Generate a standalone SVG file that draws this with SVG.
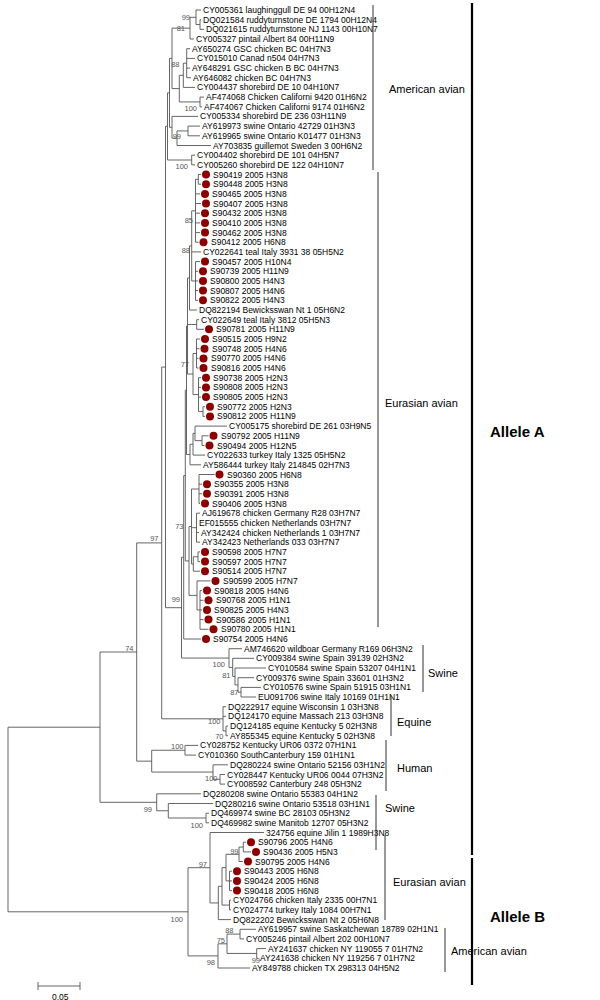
<svg xmlns="http://www.w3.org/2000/svg" width="600" height="1000" viewBox="0 0 600 1000">
<style>
.t{font-family:"Liberation Sans",Arial,sans-serif;font-size:8.5px;fill:#000}
.bs{font-family:"Liberation Sans",Arial,sans-serif;font-size:7.5px;fill:#555;text-anchor:end}
.g{font-family:"Liberation Sans",Arial,sans-serif;font-size:11px;fill:#000}
.al{font-family:"Liberation Sans",Arial,sans-serif;font-size:15px;font-weight:bold;fill:#000}
.d{fill:#8b0000}
.e{fill:none;stroke:#555;stroke-width:0.9}
.br{fill:none;stroke:#333;stroke-width:1}
.bb{fill:none;stroke:#000;stroke-width:2.2}
</style>
<rect width="600" height="1000" fill="#fff"/>
<g id="connectors">
<path class="e" d="M200 19.7V29.4M200 19.7H201M200 29.4H204M196 10V24.55M196 10H201M196 24.55H200M190 17.3V39M190 17.3H196M190 39H194M186.7 48.7V77.7M186.7 48.7H190M186.7 58.4H195M186.7 68.1H190M186.7 77.7H191M183.3 63.2V87.4M183.3 63.2H186.7M183.3 87.4H195M200 97.1V106.8M200 97.1H204M200 106.8H202M179.3 75.3V101.95M179.3 75.3H183.3M179.3 101.95H200M172 28.15V88.6M172 28.15H190M172 88.6H179.3M188 126.1V135.8M188 126.1H200M188 135.8H200M177 130.95V145.5M177 130.95H188M177 145.5H211M172 116.4V138.2M172 116.4H198M172 138.2H177M191.7 155.2V164.8M191.7 155.2H195M191.7 164.8H195M169.5 58.4V127.3M169.5 58.4H172M169.5 127.3H172M167.5 92.85V160M167.5 92.85H169.5M167.5 160H191.7"/>
<path class="e" d="M198.3 174.5V184.2M198.3 174.5H201M198.3 184.2H201M195.5 179.35V242.2M195.5 179.35H198.3M195.5 193.9H200M195.5 203.5H201M195.5 213.2H200M195.5 222.9H200M195.5 232.6H200M195.5 242.2H198.5M195.5 261.6V300.3M195.5 261.6H200M195.5 271.3H198M195.5 281H198M195.5 290.6H198M195.5 300.3H198M191.7 210.8V280.95M191.7 210.8H195.5M191.7 251.9H201M191.7 280.95H195.5M189.5 245.9V310M189.5 245.9H191.7M189.5 310H197M196.7 319.7V329.3M196.7 319.7H199M196.7 329.3H204M196.5 339V368M196.5 339H200M196.5 348.7H199.5M196.5 358.4H198.5M196.5 368H198.5M203 406.7V416.4M203 406.7H205M203 416.4H205M198.5 377.7V411.55M198.5 377.7H201M198.5 387.4H201M198.5 397.1H201M198.5 411.55H203M193 353.5V394.6M193 353.5H196.5M193 394.6H198.5M187.5 277.95V374.05M187.5 277.95H189.5M187.5 324.5H196.7M187.5 374.05H193"/>
<path class="e" d="M202 435.8V445.5M202 435.8H208.5M202 445.5H204.5M195 426.1V440.65M195 426.1H227M195 440.65H202M193 433.4V455.1M193 433.4H195M193 455.1H205M190 444.25V464.8M190 444.25H193M190 464.8H201M186.5 326V454.5M186.5 326H187.5M186.5 454.5H190M199 474.5V503.5M199 474.5H214.5M199 484.2H202M199 493.8H202M199 503.5H200M196.5 513.2V542.2M196.5 513.2H200M196.5 522.9H197M196.5 532.5H199M196.5 542.2H200M198 551.9V561.6M198 551.9H200M198 561.6H200M193.3 556.75V571.2M193.3 556.75H198M193.3 571.2H200M191.5 489V564M191.5 489H199M191.5 527.7H196.5M191.5 564H193.3M200 590.6V629.3M200 590.6H202M200 600.3H203.5M200 610H202M200 619.6H203.5M200 629.3H208.5M197 580.9V609.95M197 580.9H210.5M197 609.95H200M189 526.5V595.4M189 526.5H191.5M189 595.4H197M185.3 390.25V560.95M185.3 390.25H186.5M185.3 560.95H189M183.7 475.6V639M183.7 475.6H185.3M183.7 639H201"/>
<path class="e" d="M241 687.4V697M241 687.4H261M241 697H256M238 677.7V692.2M238 677.7H254M238 692.2H241M235 668V684.95M235 668H266M235 684.95H238M232.7 658.3V676.5M232.7 658.3H254M232.7 676.5H235M229 648.7V667.4M229 648.7H242M229 667.4H232.7M181.5 557.3V658.05M181.5 557.3H183.7M181.5 658.05H229M165.5 126.4V607.7M165.5 126.4H167.5M165.5 607.7H181.5M226 726.1V735.7M226 726.1H228M226 735.7H228M223 706.7V730.9M223 706.7H226M223 716.4H226M223 730.9H226M161.7 367.05V718.8M161.7 367.05H165.5M161.7 718.8H223M185 745.4V755.1M185 745.4H198M185 755.1H196M220 774.5V784.1M220 774.5H225M220 784.1H225M213 764.8V779.3M213 764.8H228M213 779.3H220M151.7 750.25V772.05M151.7 750.25H185M151.7 772.05H213M136.7 542.9V761.15M136.7 542.9H161.7M136.7 761.15H151.7M206 813.2V822.8M206 813.2H209M206 822.8H209M168.3 803.5V818M168.3 803.5H213M168.3 818H206M156.7 793.8V810.75M156.7 793.8H201M156.7 810.75H168.3M100 652V802.3M100 652H136.7M100 802.3H156.7"/>
<path class="e" d="M243.3 842.2V851.9M243.3 842.2H246M243.3 851.9H251M239 847.05V861.5M239 847.05H243.3M239 861.5H243M229.5 871.2V890.6M229.5 871.2H232M229.5 880.9H232M229.5 890.6H232M226 854.3V880.9M226 854.3H239M226 880.9H229.5M229.5 900.2V909.9M229.5 900.2H231M229.5 909.9H231M222 867.6V905.05M222 867.6H226M222 905.05H229.5M218.3 886.3V919.6M218.3 886.3H222M218.3 919.6H231M210 832.5V902.95M210 832.5H264M210 902.95H218.3M240 929.3V938.9M240 929.3H256M240 938.9H244M256.7 948.6V958.3M256.7 948.6H266M256.7 958.3H258M227 934.1V953.45M227 934.1H240M227 953.45H256.7M218 943.8V968M218 943.8H227M218 968H250M188 867.7V955.9M188 867.7H210M188 955.9H218M8 727.2V911.8M8 727.2H100M8 911.8H188"/>
</g>
<g id="bootstrap">
<text class="bs" x="190" y="20">99</text>
<text class="bs" x="185" y="30.5">81</text>
<text class="bs" x="179.5" y="67">88</text>
<text class="bs" x="197" y="111">100</text>
<text class="bs" x="181" y="138.5">99</text>
<text class="bs" x="188" y="168.5">100</text>
<text class="bs" x="193" y="223">85</text>
<text class="bs" x="190" y="252.5">88</text>
<text class="bs" x="189" y="367">77</text>
<text class="bs" x="183.5" y="528.5">73</text>
<text class="bs" x="158.5" y="540.5">97</text>
<text class="bs" x="180" y="602">99</text>
<text class="bs" x="133.5" y="650.5">74</text>
<text class="bs" x="225" y="667">100</text>
<text class="bs" x="230.5" y="677.5">81</text>
<text class="bs" x="238.5" y="695">87</text>
<text class="bs" x="220.5" y="723.5">100</text>
<text class="bs" x="223.5" y="738.5">70</text>
<text class="bs" x="183.5" y="748.5">100</text>
<text class="bs" x="217.5" y="780.5">100</text>
<text class="bs" x="152" y="812">99</text>
<text class="bs" x="203" y="827.5">100</text>
<text class="bs" x="238.5" y="853.5">99</text>
<text class="bs" x="207" y="867">97</text>
<text class="bs" x="183" y="921.5">100</text>
<text class="bs" x="233.5" y="933">88</text>
<text class="bs" x="225" y="943">75</text>
<text class="bs" x="260" y="963">99</text>
<text class="bs" x="215" y="965">98</text>
</g>
<g id="n1"><text class="t" x="203" y="13">CY005361 laughinggull DE 94 00H12N4</text></g>
<g id="n2"><text class="t" x="203" y="22.7">DQ021584 ruddyturnstone DE 1794 00H12N4</text></g>
<g id="n3"><text class="t" x="206" y="32.4">DQ021615 ruddyturnstone NJ 1143 00H10N7</text></g>
<g id="n4"><text class="t" x="196" y="42">CY005327 pintail Albert 84 00H11N9</text></g>
<g id="n5"><text class="t" x="192" y="51.7">AY650274 GSC chicken BC 04H7N3</text></g>
<g id="n6"><text class="t" x="197" y="61.4">CY015010 Canad n504 04H7N3</text></g>
<g id="n7"><text class="t" x="192" y="71.1">AY648291 GSC chicken B BC 04H7N3</text></g>
<g id="n8"><text class="t" x="193" y="80.7">AY646082 chicken BC 04H7N3</text></g>
<g id="n9"><text class="t" x="197" y="90.4">CY004437 shorebird DE 10 04H10N7</text></g>
<g id="n10"><text class="t" x="206" y="100.1">AF474068 Chicken Californi 9420 01H6N2</text></g>
<g id="n11"><text class="t" x="204" y="109.8">AF474067 Chicken Californi 9174 01H6N2</text></g>
<g id="n12"><text class="t" x="200" y="119.4">CY005334 shorebird DE 236 03H11N9</text></g>
<g id="n13"><text class="t" x="202" y="129.1">AY619973 swine Ontario 42729 01H3N3</text></g>
<g id="n14"><text class="t" x="202" y="138.8">AY619965 swine Ontario K01477 01H3N3</text></g>
<g id="n15"><text class="t" x="213" y="148.5">AY703835 guillemot Sweden 3 00H6N2</text></g>
<g id="n16"><text class="t" x="197" y="158.2">CY004402 shorebird DE 101 04H5N7</text></g>
<g id="n17"><text class="t" x="197" y="167.8">CY005260 shorebird DE 122 04H10N7</text></g>
<g id="n18"><circle class="d" cx="206" cy="174.5" r="4"/><text class="t" x="213" y="177.5">S90419 2005 H3N8</text></g>
<g id="n19"><circle class="d" cx="206" cy="184.2" r="4"/><text class="t" x="213" y="187.2">S90448 2005 H3N8</text></g>
<g id="n20"><circle class="d" cx="205" cy="193.9" r="4"/><text class="t" x="212" y="196.9">S90465 2005 H3N8</text></g>
<g id="n21"><circle class="d" cx="206" cy="203.5" r="4"/><text class="t" x="213" y="206.5">S90407 2005 H3N8</text></g>
<g id="n22"><circle class="d" cx="205" cy="213.2" r="4"/><text class="t" x="212" y="216.2">S90432 2005 H3N8</text></g>
<g id="n23"><circle class="d" cx="205" cy="222.9" r="4"/><text class="t" x="212" y="225.9">S90410 2005 H3N8</text></g>
<g id="n24"><circle class="d" cx="205" cy="232.6" r="4"/><text class="t" x="212" y="235.6">S90462 2005 H3N8</text></g>
<g id="n25"><circle class="d" cx="203.5" cy="242.2" r="4"/><text class="t" x="211" y="245.2">S90412 2005 H6N8</text></g>
<g id="n26"><text class="t" x="203" y="254.9">CY022641 teal Italy 3931 38 05H5N2</text></g>
<g id="n27"><circle class="d" cx="205" cy="261.6" r="4"/><text class="t" x="212" y="264.6">S90457 2005 H10N4</text></g>
<g id="n28"><circle class="d" cx="203" cy="271.3" r="4"/><text class="t" x="210" y="274.3">S90739 2005 H11N9</text></g>
<g id="n29"><circle class="d" cx="203" cy="281" r="4"/><text class="t" x="210" y="284">S90800 2005 H4N3</text></g>
<g id="n30"><circle class="d" cx="203" cy="290.6" r="4"/><text class="t" x="210" y="293.6">S90807 2005 H4N6</text></g>
<g id="n31"><circle class="d" cx="203" cy="300.3" r="4"/><text class="t" x="210" y="303.3">S90822 2005 H4N3</text></g>
<g id="n32"><text class="t" x="199" y="313">DQ822194 Bewicksswan Nt 1 05H6N2</text></g>
<g id="n33"><text class="t" x="201" y="322.7">CY022649 teal Italy 3812 05H5N3</text></g>
<g id="n34"><circle class="d" cx="209" cy="329.3" r="4"/><text class="t" x="216" y="332.3">S90781 2005 H11N9</text></g>
<g id="n35"><circle class="d" cx="205" cy="339" r="4"/><text class="t" x="212" y="342">S90515 2005 H9N2</text></g>
<g id="n36"><circle class="d" cx="204.5" cy="348.7" r="4"/><text class="t" x="212" y="351.7">S90748 2005 H4N6</text></g>
<g id="n37"><circle class="d" cx="203.5" cy="358.4" r="4"/><text class="t" x="211" y="361.4">S90770 2005 H4N6</text></g>
<g id="n38"><circle class="d" cx="203.5" cy="368" r="4"/><text class="t" x="211" y="371">S90816 2005 H4N6</text></g>
<g id="n39"><circle class="d" cx="206" cy="377.7" r="4"/><text class="t" x="213" y="380.7">S90738 2005 H2N3</text></g>
<g id="n40"><circle class="d" cx="206" cy="387.4" r="4"/><text class="t" x="213" y="390.4">S90808 2005 H2N3</text></g>
<g id="n41"><circle class="d" cx="206" cy="397.1" r="4"/><text class="t" x="213" y="400.1">S90805 2005 H2N3</text></g>
<g id="n42"><circle class="d" cx="210" cy="406.7" r="4"/><text class="t" x="217" y="409.7">S90772 2005 H2N3</text></g>
<g id="n43"><circle class="d" cx="210" cy="416.4" r="4"/><text class="t" x="217" y="419.4">S90812 2005 H11N9</text></g>
<g id="n44"><text class="t" x="229" y="429.1">CY005175 shorebird DE 261 03H9N5</text></g>
<g id="n45"><circle class="d" cx="213.5" cy="435.8" r="4"/><text class="t" x="221" y="438.8">S90792 2005 H11N9</text></g>
<g id="n46"><circle class="d" cx="209.5" cy="445.5" r="4"/><text class="t" x="217" y="448.5">S90494 2005 H12N5</text></g>
<g id="n47"><text class="t" x="207" y="458.1">CY022633 turkey Italy 1325 05H5N2</text></g>
<g id="n48"><text class="t" x="203" y="467.8">AY586444 turkey Italy 214845 02H7N3</text></g>
<g id="n49"><circle class="d" cx="219.5" cy="474.5" r="4"/><text class="t" x="227" y="477.5">S90360 2005 H6N8</text></g>
<g id="n50"><circle class="d" cx="207" cy="484.2" r="4"/><text class="t" x="214" y="487.2">S90355 2005 H3N8</text></g>
<g id="n51"><circle class="d" cx="207" cy="493.8" r="4"/><text class="t" x="214" y="496.8">S90391 2005 H3N8</text></g>
<g id="n52"><circle class="d" cx="205" cy="503.5" r="4"/><text class="t" x="212" y="506.5">S90406 2005 H3N8</text></g>
<g id="n53"><text class="t" x="202" y="516.2">AJ619678 chicken Germany R28 03H7N7</text></g>
<g id="n54"><text class="t" x="199" y="525.9">EF015555 chicken Netherlands 03H7N7</text></g>
<g id="n55"><text class="t" x="201" y="535.5">AY342424 chicken Netherlands 1 03H7N7</text></g>
<g id="n56"><text class="t" x="202" y="545.2">AY342423 Netherlands 033 03H7N7</text></g>
<g id="n57"><circle class="d" cx="205" cy="551.9" r="4"/><text class="t" x="212" y="554.9">S90598 2005 H7N7</text></g>
<g id="n58"><circle class="d" cx="205" cy="561.6" r="4"/><text class="t" x="212" y="564.6">S90597 2005 H7N7</text></g>
<g id="n59"><circle class="d" cx="205" cy="571.2" r="4"/><text class="t" x="212" y="574.2">S90514 2005 H7N7</text></g>
<g id="n60"><circle class="d" cx="215.5" cy="580.9" r="4"/><text class="t" x="223" y="583.9">S90599 2005 H7N7</text></g>
<g id="n61"><circle class="d" cx="207" cy="590.6" r="4"/><text class="t" x="214" y="593.6">S90818 2005 H4N6</text></g>
<g id="n62"><circle class="d" cx="208.5" cy="600.3" r="4"/><text class="t" x="216" y="603.3">S90768 2005 H1N1</text></g>
<g id="n63"><circle class="d" cx="207" cy="610" r="4"/><text class="t" x="214" y="613">S90825 2005 H4N3</text></g>
<g id="n64"><circle class="d" cx="208.5" cy="619.6" r="4"/><text class="t" x="216" y="622.6">S90586 2005 H1N1</text></g>
<g id="n65"><circle class="d" cx="213.5" cy="629.3" r="4"/><text class="t" x="221" y="632.3">S90780 2005 H1N1</text></g>
<g id="n66"><circle class="d" cx="206" cy="639" r="4"/><text class="t" x="213" y="642">S90754 2005 H4N6</text></g>
<g id="n67"><text class="t" x="244" y="651.7">AM746620 wildboar Germany R169 06H3N2</text></g>
<g id="n68"><text class="t" x="256" y="661.3">CY009384 swine Spain 39139 02H3N2</text></g>
<g id="n69"><text class="t" x="268" y="671">CY010584 swine Spain 53207 04H1N1</text></g>
<g id="n70"><text class="t" x="256" y="680.7">CY009376 swine Spain 33601 01H3N2</text></g>
<g id="n71"><text class="t" x="263" y="690.4">CY010576 swine Spain 51915 03H1N1</text></g>
<g id="n72"><text class="t" x="258" y="700">EU091706 swine Italy 10169 01H1N1</text></g>
<g id="n73"><text class="t" x="228" y="709.7">DQ222917 equine Wisconsin 1 03H3N8</text></g>
<g id="n74"><text class="t" x="228" y="719.4">DQ124170 equine Massach 213 03H3N8</text></g>
<g id="n75"><text class="t" x="230" y="729.1">DQ124185 equine Kentucky 5 02H3N8</text></g>
<g id="n76"><text class="t" x="230" y="738.7">AY855345 equine Kentucky 5 02H3N8</text></g>
<g id="n77"><text class="t" x="200" y="748.4">CY028752 Kentucky UR06 0372 07H1N1</text></g>
<g id="n78"><text class="t" x="198" y="758.1">CY010360 SouthCanterbury 159 01H1N1</text></g>
<g id="n79"><text class="t" x="230" y="767.8">DQ280224 swine Ontario 52156 03H1N2</text></g>
<g id="n80"><text class="t" x="227" y="777.5">CY028447 Kentucky UR06 0044 07H3N2</text></g>
<g id="n81"><text class="t" x="227" y="787.1">CY008592 Canterbury 248 05H3N2</text></g>
<g id="n82"><text class="t" x="203" y="796.8">DQ280208 swine Ontario 55383 04H1N2</text></g>
<g id="n83"><text class="t" x="215" y="806.5">DQ280216 swine Ontario 53518 03H1N1</text></g>
<g id="n84"><text class="t" x="211" y="816.2">DQ469974 swine BC 28103 05H3N2</text></g>
<g id="n85"><text class="t" x="211" y="825.8">DQ469982 swine Manitob 12707 05H3N2</text></g>
<g id="n86"><text class="t" x="266" y="835.5">324756 equine Jilin 1 1989H3N8</text></g>
<g id="n87"><circle class="d" cx="251" cy="842.2" r="4"/><text class="t" x="258" y="845.2">S90796 2005 H4N6</text></g>
<g id="n88"><circle class="d" cx="256" cy="851.9" r="4"/><text class="t" x="263" y="854.9">S90436 2005 H5N3</text></g>
<g id="n89"><circle class="d" cx="248" cy="861.5" r="4"/><text class="t" x="255" y="864.5">S90795 2005 H4N6</text></g>
<g id="n90"><circle class="d" cx="237" cy="871.2" r="4"/><text class="t" x="244" y="874.2">S90443 2005 H6N8</text></g>
<g id="n91"><circle class="d" cx="237" cy="880.9" r="4"/><text class="t" x="244" y="883.9">S90424 2005 H6N8</text></g>
<g id="n92"><circle class="d" cx="237" cy="890.6" r="4"/><text class="t" x="244" y="893.6">S90418 2005 H6N8</text></g>
<g id="n93"><text class="t" x="233" y="903.2">CY024766 chicken Italy 2335 00H7N1</text></g>
<g id="n94"><text class="t" x="233" y="912.9">CY024774 turkey Italy 1084 00H7N1</text></g>
<g id="n95"><text class="t" x="233" y="922.6">DQ822202 Bewicksswan Nt 2 05H6N8</text></g>
<g id="n96"><text class="t" x="258" y="932.3">AY619957 swine Saskatchewan 18789 02H1N1</text></g>
<g id="n97"><text class="t" x="246" y="941.9">CY005246 pintail Albert 202 00H10N7</text></g>
<g id="n98"><text class="t" x="268" y="951.6">AY241637 chicken NY 119055 7 01H7N2</text></g>
<g id="n99"><text class="t" x="260" y="961.3">AY241638 chicken NY 119256 7 01H7N2</text></g>
<g id="n100"><text class="t" x="252" y="971">AY849788 chicken TX 298313 04H5N2</text></g>
<g id="groups">
<path class="br" d="M373 5V170M378 172V627M423 645V692M391 696V736M386 740V791M376 795V850M385 835V920M445 928V972"/>
<text class="g" x="389" y="93">American avian</text>
<text class="g" x="385" y="407">Eurasian avian</text>
<text class="g" x="428" y="677">Swine</text>
<text class="g" x="397" y="726">Equine</text>
<text class="g" x="397" y="772">Human</text>
<text class="g" x="385" y="812">Swine</text>
<text class="g" x="393" y="886">Eurasian avian</text>
<text class="g" x="451" y="955">American avian</text>
<path class="bb" d="M472 3V855M472 858V985"/>
<text class="al" x="490" y="437">Allele A</text>
<text class="al" x="490" y="922">Allele B</text>
</g>
<g id="scale">
<path class="e" d="M38 986H80M38 982V990M80 982V990"/>
<text class="t" x="52" y="1000">0.05</text>
</g>
</svg>
